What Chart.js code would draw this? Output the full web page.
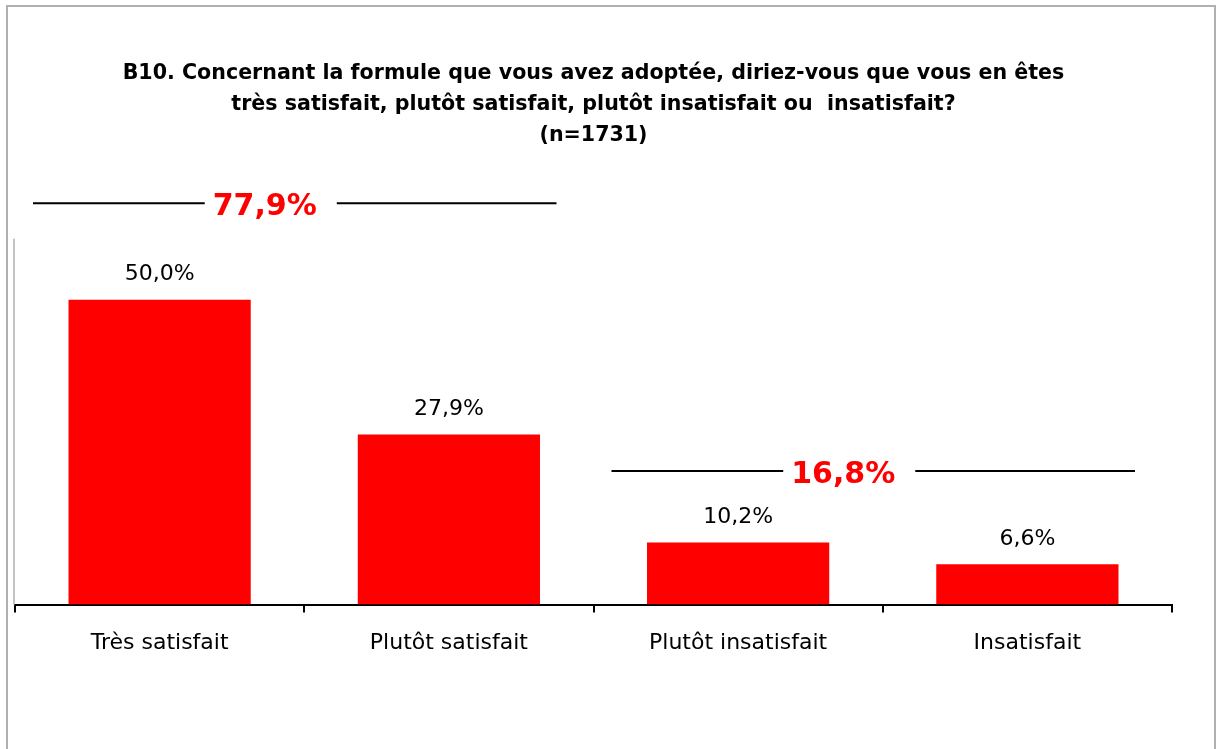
<!DOCTYPE html>
<html>
<head>
<meta charset="utf-8">
<script src="https://cdn.jsdelivr.net/npm/chart.js@4.4.1/dist/chart.umd.min.js"></script>
<style>
  html, body { margin: 0; padding: 0; background: #fff; overflow: hidden; }
  #frame { position: absolute; left: 6px; top: 5px; width: 1206px; height: 800px; border: 2px solid #b0b0b0; }
  #chart { position: absolute; left: 0; top: 0; }
</style>
</head>
<body>
<div id="frame"></div>
<canvas id="chart" width="1218" height="749"></canvas>
<script>
const categories = ['Très satisfait', 'Plutôt satisfait', 'Plutôt insatisfait', 'Insatisfait'];
const values = [50.0, 27.9, 10.2, 6.6];
const groupLabels = ['77,9%', '16,8%'];
const groupRanges = [[0, 1], [2, 3]];
const titleLines = [
    'B10. Concernant la formule que vous avez adoptée, diriez-vous que vous en êtes',
    'très satisfait, plutôt satisfait, plutôt insatisfait ou  insatisfait?',
    '(n=1731)'
];

const fmt = v => v.toFixed(1).replace('.', ',') + '%';

// étiquettes de valeurs, axe gauche, regroupements
const extras = {
    id: 'extras',
    afterDraw(chart, args, opts) {
        const ctx = chart.ctx;
        const area = chart.chartArea;
        const x = chart.scales.x;
        const y = chart.scales.y;
        ctx.save();

        // axe vertical gris
        ctx.strokeStyle = '#c4c4c4';
        ctx.lineWidth = 2;
        ctx.beginPath();
        ctx.moveTo(area.left - 1, area.top);
        ctx.lineTo(area.left - 1, area.bottom);
        ctx.stroke();

        // valeurs au-dessus des barres
        ctx.fillStyle = '#000';
        ctx.font = '22px "DejaVu Sans"';
        ctx.textAlign = 'center';
        ctx.textBaseline = 'middle';
        chart.getDatasetMeta(0).data.forEach((bar, i) => {
            ctx.fillText(fmt(values[i]), bar.x, bar.y - 25);
        });

        // totaux des groupes
        groupRanges.forEach((r, g) => {
            const half = (x.getPixelForValue(1) - x.getPixelForValue(0)) / 2;
            const left = x.getPixelForValue(r[0]) - half + 18;
            const right = x.getPixelForValue(r[1]) + half - 37;
            const cy = y.getPixelForValue(opts.levels[g]);
            const cx = (left + right) / 2 - 30;
            ctx.font = 'bold 30px "DejaVu Sans"';
            const w = ctx.measureText(groupLabels[g]).width;
            ctx.fillStyle = '#ff0000';
            ctx.fillText(groupLabels[g], cx, cy + 4);
            ctx.strokeStyle = '#000';
            ctx.lineWidth = 2;
            ctx.beginPath();
            ctx.moveTo(left, cy);
            ctx.lineTo(cx - w / 2 - 8, cy);
            ctx.moveTo(cx + w / 2 + 20, cy);
            ctx.lineTo(right, cy);
            ctx.stroke();
        });
        ctx.restore();
    }
};

new Chart(document.getElementById('chart'), {
    type: 'bar',
    data: {
        labels: categories,
        datasets: [{
            data: values,
            backgroundColor: '#ff0000',
            borderWidth: 0,
            barPercentage: 0.63,
            categoryPercentage: 1
        }]
    },
    options: {
        responsive: false,
        animation: false,
        layout: { padding: { left: 15, right: 46, bottom: 76 } },
        plugins: {
            legend: { display: false },
            tooltip: { enabled: false },
            title: {
                display: true,
                text: titleLines,
                color: '#000',
                font: { family: 'DejaVu Sans', size: 20.6, weight: 'bold', lineHeight: 1.5 },
                padding: { top: 58, bottom: 88 }
            },
            extras: { levels: [65.8, 21.9] }
        },
        scales: {
            x: {
                border: { color: '#000', width: 2 },
                grid: { display: true, drawOnChartArea: false, color: '#000', lineWidth: 2, tickLength: 8 },
                ticks: { color: '#000', padding: 17, font: { family: 'DejaVu Sans', size: 22 } }
            },
            y: {
                display: false,
                min: 0,
                max: 60
            }
        }
    },
    plugins: [extras]
});
</script>
</body>
</html>
